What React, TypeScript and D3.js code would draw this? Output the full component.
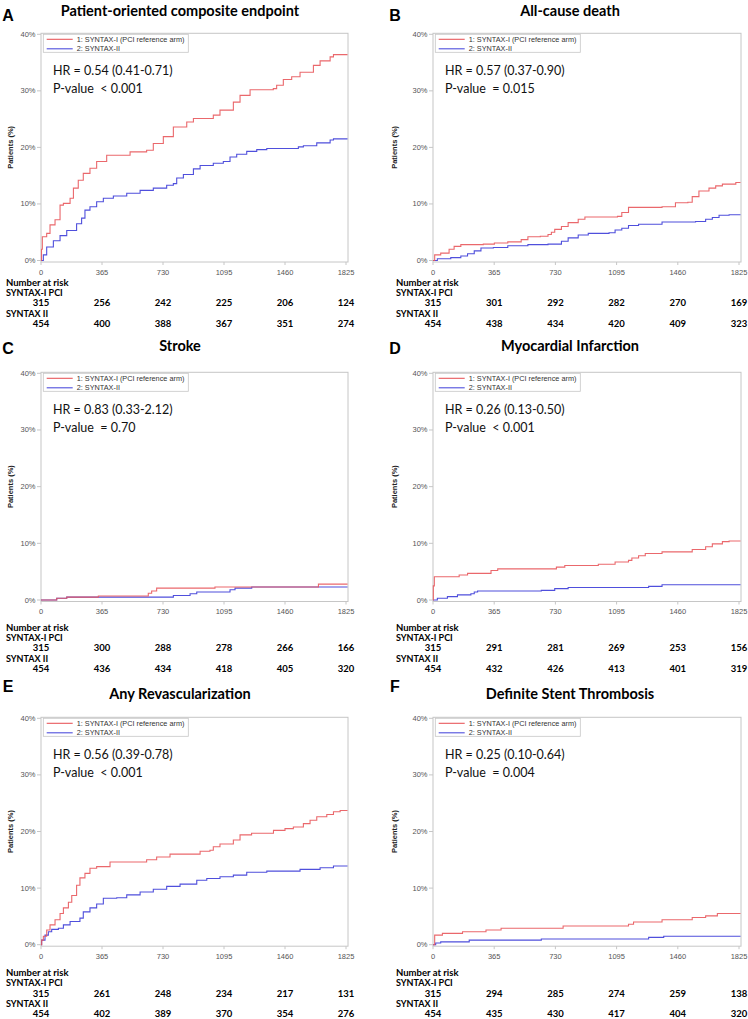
import React from 'react';
import * as d3 from 'd3';

type Pt = [number, number];

const xTicks = [0, 365, 730, 1095, 1460, 1825];
const yTicks = [0, 10, 20, 30, 40];
const panelLetters = ['A', 'B', 'C', 'D', 'E', 'F'];
const panelTitles = [
  'Patient-oriented composite endpoint',
  'All-cause death',
  'Stroke',
  'Myocardial Infarction',
  'Any Revascularization',
  'Definite Stent Thrombosis',
];
const hrLabels = [
  'HR = 0.54 (0.41-0.71)',
  'HR = 0.57 (0.37-0.90)',
  'HR = 0.83 (0.33-2.12)',
  'HR = 0.26 (0.13-0.50)',
  'HR = 0.56 (0.39-0.78)',
  'HR = 0.25 (0.10-0.64)',
];
const pLabels = [
  'P-value  < 0.001',
  'P-value  = 0.015',
  'P-value  = 0.70',
  'P-value  < 0.001',
  'P-value  < 0.001',
  'P-value  = 0.004',
];
const legendLabels = ['1: SYNTAX-I (PCI reference arm)', '2: SYNTAX-II'];
const groupLabels = ['SYNTAX-I PCI', 'SYNTAX II'];

// Kaplan-Meier cumulative incidence (%), [day, percent]
const compositeI: Pt[] = [[0,0],[3,2.0],[8,4.2],[34,4.8],[54,6.3],[84,7.2],[114,9.8],[134,10.1],[174,11.0],[194,12.8],[223,14.2],[253,15.4],[293,16.3],[333,17.5],[393,18.6],[533,19.2],[632,19.5],[672,20.7],[732,21.9],[792,23.6],[872,24.5],[912,25.1],[1031,25.7],[1071,26.6],[1151,28.0],[1191,29.2],[1251,30.2],[1390,30.4],[1410,31.0],[1450,32.0],[1500,32.5],[1550,33.3],[1630,34.5],[1670,35.3],[1730,36.0],[1750,36.4]];
const compositeII: Pt[] = [[0,0],[14,1.0],[34,2.4],[74,3.5],[114,4.4],[154,5.3],[213,6.5],[243,7.5],[263,8.9],[293,9.5],[333,10.4],[373,11.0],[433,11.4],[513,11.9],[593,12.4],[672,12.8],[752,13.3],[792,13.6],[812,14.6],[852,15.2],[912,16.2],[952,16.8],[1031,17.2],[1091,17.5],[1131,18.3],[1171,18.8],[1231,19.3],[1291,19.6],[1351,19.8],[1540,20.1],[1570,20.3],[1650,20.8],[1730,21.3],[1750,21.5]];
const deathI: Pt[] = [[0,0],[10,1.0],[46,1.3],[96,2.0],[126,2.5],[166,2.8],[300,2.9],[366,3.1],[446,3.3],[526,3.7],[566,4.2],[640,4.3],[686,4.6],[706,5.0],[726,5.5],[766,6.0],[806,6.7],[866,7.3],[906,7.7],[1100,7.8],[1126,8.5],[1166,9.4],[1366,9.5],[1446,10.2],[1520,10.3],[1546,11.3],[1586,12.3],[1646,12.8],[1686,13.2],[1726,13.5],[1806,13.8]];
const deathII: Pt[] = [[0,0],[26,0.3],[106,0.5],[166,0.8],[206,1.2],[246,1.7],[286,2.2],[360,2.3],[446,2.6],[566,2.8],[686,2.9],[766,3.4],[806,4.0],[866,4.5],[926,4.8],[1050,4.9],[1086,5.4],[1126,5.7],[1166,6.2],[1226,6.4],[1366,6.8],[1566,6.9],[1626,7.3],[1666,7.6],[1706,8.0],[1766,8.1]];
const strokeI: Pt[] = [[0,0],[94,0.3],[154,0.5],[343,0.7],[642,1.2],[662,1.6],[692,2.1],[1041,2.3],[1660,2.8]];
const strokeII: Pt[] = [[0,0],[94,0.3],[154,0.5],[343,0.5],[792,0.8],[892,1.1],[932,1.4],[1131,1.8],[1161,2.1],[1261,2.3]];
const miI: Pt[] = [[0,0],[2,2.5],[8,4.1],[156,4.4],[206,4.7],[346,5.2],[386,5.5],[736,5.8],[786,6.1],[986,6.3],[1086,6.7],[1166,7.0],[1186,7.4],[1226,7.8],[1266,8.2],[1366,8.5],[1546,8.9],[1626,9.4],[1666,9.9],[1726,10.3],[1766,10.4]];
const miII: Pt[] = [[0,0],[26,0.3],[86,0.6],[146,0.9],[226,1.1],[246,1.4],[266,1.6],[646,1.7],[726,2.0],[806,2.2],[1286,2.4],[1366,2.7]];
const revascI: Pt[] = [[0,0],[4,0.8],[14,1.5],[34,2.6],[54,3.5],[84,4.4],[114,5.5],[134,6.5],[164,7.5],[184,8.7],[213,10.5],[233,11.8],[263,12.6],[293,13.5],[333,13.8],[413,14.6],[632,15.0],[692,15.5],[772,16.0],[952,16.5],[1011,16.7],[1031,17.3],[1071,17.8],[1151,18.5],[1191,19.4],[1260,19.7],[1391,20.2],[1460,20.5],[1510,20.8],[1570,21.4],[1610,22.0],[1650,22.6],[1710,23.0],[1750,23.5],[1790,23.7]];
const revascII: Pt[] = [[0,0],[4,0.8],[24,1.7],[44,2.3],[64,2.7],[104,2.9],[134,3.5],[174,4.1],[233,4.7],[253,5.8],[293,6.5],[333,7.2],[373,8.2],[453,8.3],[513,8.8],[593,9.3],[672,9.8],[752,10.3],[832,10.7],[932,11.4],[992,11.7],[1071,12.0],[1151,12.3],[1231,12.8],[1351,13.0],[1550,13.3],[1670,13.6],[1750,13.9]];
const stentI: Pt[] = [[0,0],[10,1.7],[56,2.0],[176,2.3],[316,2.6],[406,2.9],[776,3.3],[1166,3.6],[1196,4.0],[1366,4.4],[1546,4.8],[1626,5.1],[1696,5.5]];
const stentII: Pt[] = [[0,0],[16,0.3],[46,0.5],[216,0.8],[646,1.0],[1286,1.3],[1376,1.5]];

// Number at risk
const riskCompositeI = [315, 256, 242, 225, 206, 124];
const riskCompositeII = [454, 400, 388, 367, 351, 274];
const riskDeathI = [315, 301, 292, 282, 270, 169];
const riskDeathII = [454, 438, 434, 420, 409, 323];
const riskStrokeI = [315, 300, 288, 278, 266, 166];
const riskStrokeII = [454, 436, 434, 418, 405, 320];
const riskMiI = [315, 291, 281, 269, 253, 156];
const riskMiII = [454, 432, 426, 413, 401, 319];
const riskRevascI = [315, 261, 248, 234, 217, 131];
const riskRevascII = [454, 402, 389, 370, 354, 276];
const riskStentI = [315, 294, 285, 274, 259, 138];
const riskStentII = [454, 435, 430, 417, 404, 320];

const curvesI = [compositeI, deathI, strokeI, miI, revascI, stentI];
const curvesII = [compositeII, deathII, strokeII, miII, revascII, stentII];
const risksI = [riskCompositeI, riskDeathI, riskStrokeI, riskMiI, riskRevascI, riskStentI];
const risksII = [riskCompositeII, riskDeathII, riskStrokeII, riskMiII, riskRevascII, riskStentII];

// Layout
const ROW_TOP = [34.3, 373.3, 718.3];
const ROW_ZERO = [260.5, 600, 944.7];
const ROW_TITLE = [10, 345, 693];
const ROW_LETTER = [15, 348, 686];
const ROW_RISK = [282, 627, 972.5];
const COL_LEFT = [41, 433];
const COL_RIGHT = [348, 741];
const COL_TITLE = [180, 570];
const COL_LETTER = [8, 395];
const COL_RISKLABEL = [6, 396];
const COL_YLABEL = [10, 394];

const RED = '#e8585c';
const BLUE = '#4f4fdc';
const AXIS = '#c6c6c6';
const TICKTEXT = '#555';
const SANS = '"Liberation Sans", Arial, sans-serif';
const CAL = 'Lato, "Open Sans", sans-serif';

function Panel({ i }: { i: number }) {
  const row = Math.floor(i / 2);
  const col = i % 2;
  const left = COL_LEFT[col];
  const right = COL_RIGHT[col];
  const top = ROW_TOP[row];
  const zero = ROW_ZERO[row];
  const x = d3.scaleLinear().domain([0, 1825]).range([left, right - 2]);
  const y = d3.scaleLinear().domain([0, 40]).range([zero, top]);
  const line = d3
    .line<Pt>()
    .x((d) => x(d[0]))
    .y((d) => y(d[1]))
    .curve(d3.curveStepAfter);
  const endDay = x.invert(right - 0.5);
  const extend = (arr: Pt[]): Pt[] => [...arr, [endDay, arr[arr.length - 1][1]]];
  const rY = ROW_RISK[row];
  const dy = 10.35;
  return (
    <g>
      <text x={COL_LETTER[col]} y={ROW_LETTER[row]} textAnchor="middle" dominantBaseline="central"
        fontFamily={SANS} fontWeight="bold" fontSize={16} fill="#000">{panelLetters[i]}</text>
      <text x={COL_TITLE[col]} y={ROW_TITLE[row]} textAnchor="middle" dominantBaseline="central"
        fontFamily={CAL} fontWeight="bold" fontSize={14.5} fill="#000">{panelTitles[i]}</text>
      {/* frame */}
      <rect x={left} y={top - 1} width={right - left} height={zero + 1.5 - (top - 1)} fill="none" stroke={AXIS} strokeWidth={1} />
      {/* y ticks */}
      {yTicks.map((t) => (
        <g key={'y' + t}>
          <line x1={left - 4} x2={left} y1={y(t)} y2={y(t)} stroke={AXIS} />
          <text x={left - 5.5} y={y(t)} textAnchor="end" dominantBaseline="central" fontFamily={SANS} fontSize={7.5} fill={TICKTEXT}>{t + '%'}</text>
        </g>
      ))}
      {/* x ticks */}
      {xTicks.map((t) => (
        <g key={'x' + t}>
          <line x1={x(t)} x2={x(t)} y1={zero + 1.5} y2={zero + 4.5} stroke={AXIS} />
          <text x={x(t)} y={zero + 11.5} textAnchor="middle" dominantBaseline="central" fontFamily={SANS} fontSize={7.5} fill={TICKTEXT}>{t}</text>
        </g>
      ))}
      <text transform={`translate(${COL_YLABEL[col]},${(top + zero) / 2}) rotate(-90)`} textAnchor="middle" dominantBaseline="central"
        fontFamily={SANS} fontWeight="bold" fontSize={7.5} fill="#222">Patients (%)</text>
      {/* curves */}
      <path d={line(extend(curvesII[i])) || ''} fill="none" stroke={BLUE} strokeWidth={1.1} />
      <path d={line(extend(curvesI[i])) || ''} fill="none" stroke={RED} strokeWidth={1.1} strokeOpacity={0.9} />
      {/* legend */}
      <rect x={left + 2.3} y={top} width={145} height={18} fill="#fff" stroke={AXIS} strokeWidth={0.8} />
      <line x1={left + 5.7} x2={left + 31.7} y1={top + 5} y2={top + 5} stroke={RED} strokeWidth={1.1} />
      <line x1={left + 5.7} x2={left + 31.7} y1={top + 14.5} y2={top + 14.5} stroke={BLUE} strokeWidth={1.1} />
      <text x={left + 35.7} y={top + 5} dominantBaseline="central" fontFamily={SANS} fontSize={7.3} fill="#333">{legendLabels[0]}</text>
      <text x={left + 35.7} y={top + 14.5} dominantBaseline="central" fontFamily={SANS} fontSize={7.3} fill="#333">{legendLabels[1]}</text>
      {/* HR / P */}
      <text x={left + 12} y={top + 36.5} dominantBaseline="central" fontFamily={CAL} fontSize={12.5} fill="#111" style={{ whiteSpace: 'pre' }}>{hrLabels[i]}</text>
      <text x={left + 12} y={top + 54} dominantBaseline="central" fontFamily={CAL} fontSize={12.5} fill="#111" style={{ whiteSpace: 'pre' }}>{pLabels[i]}</text>
      {/* risk table */}
      <text x={COL_RISKLABEL[col]} y={rY} dominantBaseline="central" fontFamily={CAL} fontWeight="bold" fontSize={9.5} fill="#000">Number at risk</text>
      <text x={COL_RISKLABEL[col]} y={rY + dy} dominantBaseline="central" fontFamily={CAL} fontWeight="bold" fontSize={9} fill="#000">{groupLabels[0]}</text>
      {risksI[i].map((n, k) => (
        <text key={'r1' + k} x={x(xTicks[k])} y={rY + 2 * dy} textAnchor="middle" dominantBaseline="central" fontFamily={CAL} fontWeight="bold" fontSize={9.5} fill="#000">{n}</text>
      ))}
      <text x={COL_RISKLABEL[col]} y={rY + 3 * dy} dominantBaseline="central" fontFamily={CAL} fontWeight="bold" fontSize={9} fill="#000">{groupLabels[1]}</text>
      {risksII[i].map((n, k) => (
        <text key={'r2' + k} x={x(xTicks[k])} y={rY + 4 * dy} textAnchor="middle" dominantBaseline="central" fontFamily={CAL} fontWeight="bold" fontSize={9.5} fill="#000">{n}</text>
      ))}
    </g>
  );
}

export default function App() {
  return (
    <svg width={748} height={1019} viewBox="0 0 748 1019"
      style={{ position: 'absolute', left: 0, top: 0, background: '#fff' }}>
      <rect x={0} y={0} width={748} height={1019} fill="#fff" />
      {panelTitles.map((_, i) => (
        <Panel key={i} i={i} />
      ))}
    </svg>
  );
}
